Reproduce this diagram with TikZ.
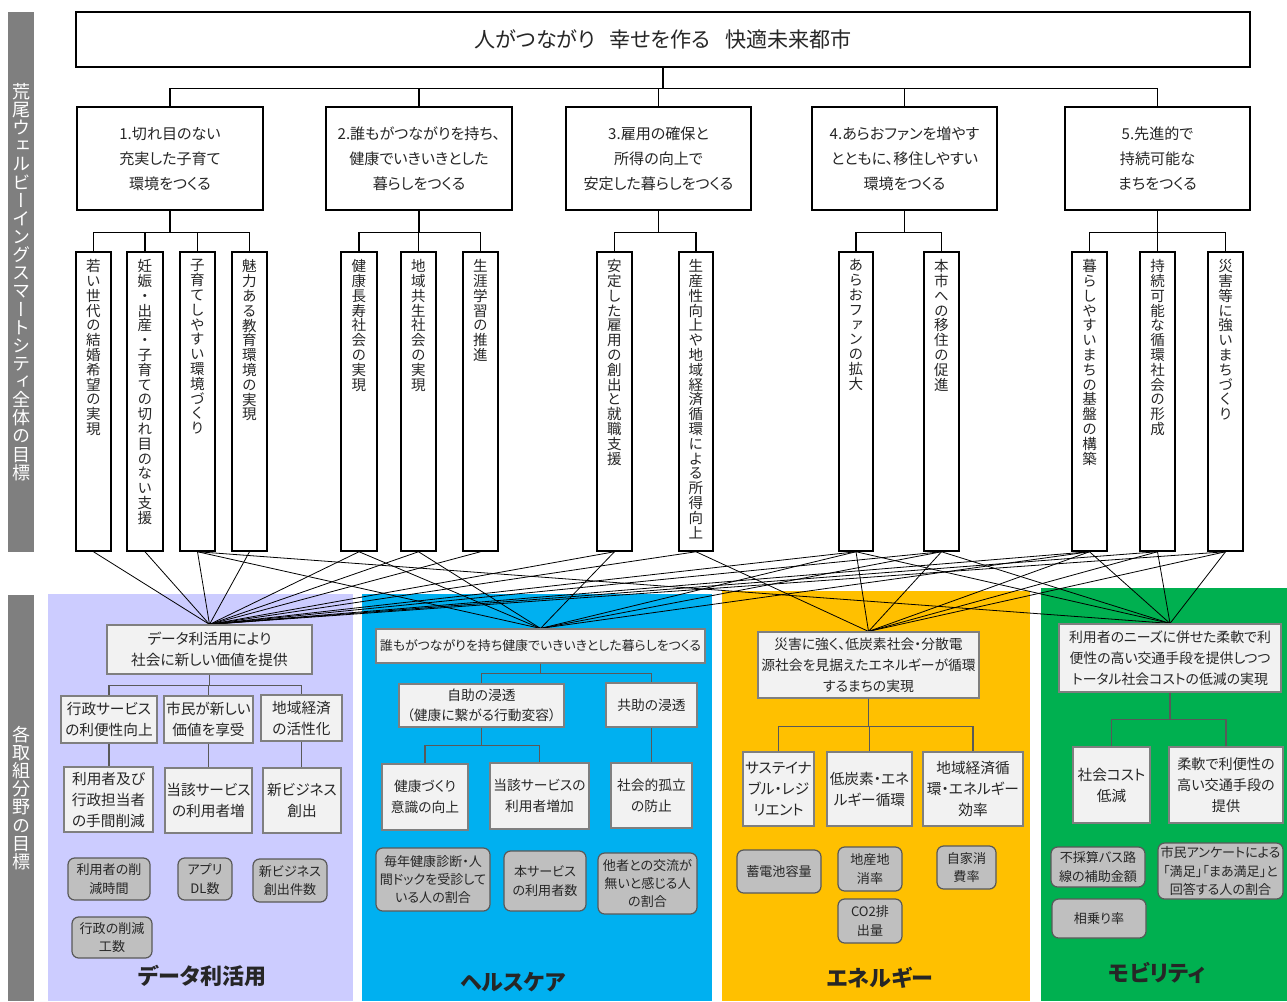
\documentclass[tikz,border=0pt]{standalone}
\usepackage{fontspec}
\setmainfont{Noto Sans CJK JP}[RawFeature=+palt]
\newfontfamily\vfont{Noto Sans CJK JP}[RawFeature=+vert]
\usetikzlibrary{calc}
\definecolor{lav}{HTML}{CCCCFF}
\definecolor{hblue}{HTML}{00B0F0}
\definecolor{eyel}{HTML}{FFC000}
\definecolor{mgrn}{HTML}{00B050}
\definecolor{barg}{HTML}{7F7F7F}
\definecolor{lbox}{HTML}{F2F2F2}
\definecolor{lbord}{HTML}{7F7F7F}
\definecolor{ibox}{HTML}{BFBFBF}
\definecolor{ibord}{HTML}{595959}
\definecolor{txt}{HTML}{262626}
\makeatletter
\def\vt@end{\vt@end}
\def\vt@a#1{\ifx#1\vt@end\else\hbox to 1.2em{\hss#1\hss}\expandafter\vt@a\fi}
\newcommand\vtext[2]{\vbox{\baselineskip=#1\lineskiplimit=-\maxdimen\lineskip=0pt\vt@a#2\vt@end}}
\makeatother
\newcommand\bx[7]{\node[#6, minimum width={(#4-#2)*0.75pt}, minimum height={(#5-#3)*0.75pt}] (#1) at ({(#2+#4)/2},{(#3+#5)/2}) {#7};}
\pgfdeclarelayer{panel}\pgfdeclarelayer{lines}
\pgfsetlayers{panel,lines,main}
\tikzset{
 tb/.style={draw=black, line width=1.1pt, fill=white, inner sep=0pt, align=center, text=txt, font=\fontsize{11.3}{18.75}\selectfont},
 vb/.style={draw=black, line width=1.1pt, fill=white, inner sep=0pt},
 vtx/.style={inner sep=0pt, text=txt, font=\vfont\fontsize{10.9}{11}\selectfont, anchor=north},
 gbar/.style={fill=barg, inner sep=0pt},
 gtx/.style={inner sep=0pt, text=white, font=\vfont\fontsize{13.5}{13.6}\selectfont},
 lb/.style={draw=lbord, line width=0.9pt, fill=lbox, inner sep=0pt, align=center, text=txt, font=\fontsize{11}{15.8}\selectfont},
 ib/.style={draw=ibord, line width=0.9pt, fill=ibox, rounded corners=5pt, inner sep=0pt, align=center, text=txt, font=\fontsize{9.8}{13.8}\selectfont},
 ttl/.style={inner sep=0pt, font=\fontsize{16.5}{18}\selectfont\bfseries, text=txt},
 link/.style={line width=0.6pt, black},
 tree/.style={line width=1.1pt, black},
 ltree/.style={line width=0.9pt, ibord},
}
\begin{document}
\begin{tikzpicture}[x=0.75pt,y=-0.75pt]
\useasboundingbox (0,0) rectangle (1287,1001);
\begin{pgfonlayer}{panel}
\fill[white] (0,0) rectangle (1287,1001);
\fill[lav] (48,594) rectangle (353,1001);
\fill[hblue] (362,594) rectangle (712,1001);
\fill[eyel] (722,591) rectangle (1030,1001);
\fill[mgrn] (1041,588) rectangle (1287,1001);
\end{pgfonlayer}
% left bars
\bx{G1}{8}{12}{34}{552}{gbar}{}
\node[gtx] (G1t) at (G1.center) {\vtext{13.6pt}{荒尾ウェルビーイングスマートシティ全体の目標}};
\bx{G2}{8}{595}{34}{1001}{gbar}{}
\node[gtx] (G2t) at (G2.center) {\vtext{13.6pt}{各取組分野の目標}};
% top
\bx{T}{76}{12}{1250}{67}{tb}{\fontsize{15.8}{18}\selectfont 人がつながり\hspace{0.7em}幸せを作る\hspace{0.7em}快適未来都市}
\bx{P1}{77}{107}{263}{210}{tb}{1.切れ目のない\\充実した子育て\\環境をつくる}
\bx{P2}{326}{107}{512}{210}{tb}{2.誰もがつながりを持ち、\\健康でいきいきとした\\暮らしをつくる}
\bx{P3}{566}{107}{751}{210}{tb}{3.雇用の確保と\\所得の向上で\\安定した暮らしをつくる}
\bx{P4}{812}{107}{997}{210}{tb}{4.あらおファンを増やす\\とともに、移住しやすい\\環境をつくる}
\bx{P5}{1065}{107}{1250}{210}{tb}{5.先進的で\\持続可能な\\まちをつくる}
\foreach \p in {P1,P2,P3,P4,P5} \draw[tree] (T.south) -- ++(0,21) -| (\p.north);
% vertical boxes
\bx{v1}{76}{252}{111}{551}{vb}{}
\bx{v2}{127}{252}{163}{551}{vb}{}
\bx{v3}{180}{252}{215}{551}{vb}{}
\bx{v4}{232}{252}{267}{551}{vb}{}
\bx{v5}{341}{252}{377}{551}{vb}{}
\bx{v6}{401}{252}{436}{551}{vb}{}
\bx{v7}{463}{252}{498}{551}{vb}{}
\bx{v8}{597}{252}{632}{551}{vb}{}
\bx{v9}{679}{252}{713}{551}{vb}{}
\bx{v10}{839}{252}{873}{551}{vb}{}
\bx{v11}{924}{252}{959}{551}{vb}{}
\bx{v12}{1072}{252}{1107}{551}{vb}{}
\bx{v13}{1140}{252}{1175}{551}{vb}{}
\bx{v14}{1208}{252}{1243}{551}{vb}{}
\node[vtx] (t1) at ($(v1.north)+(0,8)$) {\vtext{11.1pt}{若い世代の結婚希望の実現}};
\node[vtx] (t2) at ($(v2.north)+(0,8)$) {\vtext{11.1pt}{妊娠・出産・子育ての切れ目のない支援}};
\node[vtx] (t3) at ($(v3.north)+(0,8)$) {\vtext{11.1pt}{子育てしやすい環境づくり}};
\node[vtx] (t4) at ($(v4.north)+(0,8)$) {\vtext{11.1pt}{魅力ある教育環境の実現}};
\node[vtx] (t5) at ($(v5.north)+(0,8)$) {\vtext{11.1pt}{健康長寿社会の実現}};
\node[vtx] (t6) at ($(v6.north)+(0,8)$) {\vtext{11.1pt}{地域共生社会の実現}};
\node[vtx] (t7) at ($(v7.north)+(0,8)$) {\vtext{11.1pt}{生涯学習の推進}};
\node[vtx] (t8) at ($(v8.north)+(0,8)$) {\vtext{11.1pt}{安定した雇用の創出と就職支援}};
\node[vtx] (t9) at ($(v9.north)+(0,8)$) {\vtext{11.1pt}{生産性向上や地域経済循環による所得向上}};
\node[vtx] (t10) at ($(v10.north)+(0,8)$) {\vtext{11.1pt}{あらおファンの拡大}};
\node[vtx] (t11) at ($(v11.north)+(0,8)$) {\vtext{11.1pt}{本市への移住の促進}};
\node[vtx] (t12) at ($(v12.north)+(0,8)$) {\vtext{11.1pt}{暮らしやすいまちの基盤の構築}};
\node[vtx] (t13) at ($(v13.north)+(0,8)$) {\vtext{11.1pt}{持続可能な循環社会の形成}};
\node[vtx] (t14) at ($(v14.north)+(0,8)$) {\vtext{11.1pt}{災害等に強いまちづくり}};
\foreach \c in {v1,v2,v3,v4} \draw[tree] (P1.south) -- ++(0,22) -| (\c.north);
\foreach \c in {v5,v6,v7} \draw[tree] (P2.south) -- ++(0,22) -| (\c.north);
\foreach \c in {v8,v9} \draw[tree] (P3.south) -- ++(0,22) -| (\c.north);
\foreach \c in {v10,v11} \draw[tree] (P4.south) -- ++(0,22) -| (\c.north);
\foreach \c in {v12,v13,v14} \draw[tree] (P5.south) -- ++(0,22) -| (\c.north);
% data panel
\bx{dh}{107}{625}{312}{674}{lb}{データ利活用により\\社会に新しい価値を提供}
\bx{d21}{61}{696}{157}{743}{lb}{行政サービス\\の利便性向上}
\bx{d22}{164}{696}{253}{743}{lb}{市民が新しい\\価値を享受}
\bx{d23}{261}{695}{342}{741}{lb}{地域経済\\の活性化}
\bx{d31}{64}{767}{153}{832}{lb}{利用者及び\\行政担当者\\の手間削減}
\bx{d32}{165}{768}{252}{833}{lb}{当該サービス\\の利用者増}
\bx{d33}{263}{768}{341}{833}{lb}{新ビジネス\\創出}
\bx{di1}{68}{858}{150}{900}{ib}{利用者の削\\減時間}
\bx{di2}{178}{858}{232}{900}{ib}{アプリ\\DL数}
\bx{di3}{253}{859}{327}{902}{ib}{新ビジネス\\創出件数}
\bx{di4}{72}{917}{152}{958}{ib}{行政の削減\\工数}
\node[ttl] (dt) at (202,976) {データ利活用};
\foreach \c in {d21,d22,d23} \draw[ltree] (dh.south) -- ++(0,11) -| (\c.north);
\draw[ltree] (d21.south) -- (d21.south |- d31.north);
\draw[ltree] (d22.south) -- (d22.south |- d32.north);
\draw[ltree] (d23.south) -- (d23.south |- d33.north);
% health panel
\bx{hh}{376}{629}{705}{663}{lb,font=\fontsize{9.7}{14}\selectfont}{誰もがつながりを持ち健康でいきいきとした暮らしをつくる}
\bx{h21}{399}{684}{564}{727}{lb,font=\fontsize{10.3}{15.5}\selectfont}{自助の浸透\\（健康に繋がる行動変容）}
\bx{h22}{606}{683}{697}{727}{lb,font=\fontsize{10.3}{15.5}\selectfont}{共助の浸透}
\bx{h31}{382}{764}{468}{830}{lb,font=\fontsize{10.3}{15.5}\selectfont}{健康づくり\\意識の向上}
\bx{h32}{490}{763}{589}{829}{lb,font=\fontsize{10.3}{15.5}\selectfont}{当該サービスの\\利用者増加}
\bx{h33}{611}{763}{692}{828}{lb,font=\fontsize{10.3}{15.5}\selectfont}{社会的孤立\\の防止}
\bx{hi1}{376}{848}{490}{911}{ib}{毎年健康診断・人\\間ドックを受診して\\いる人の割合}
\bx{hi2}{504}{851}{586}{911}{ib}{本サービス\\の利用者数}
\bx{hi3}{598}{853}{697}{914}{ib}{他者との交流が\\無いと感じる人\\の割合}
\node[ttl] (ht) at (513,982) {ヘルスケア};
\foreach \c in {h21,h22} \draw[ltree] (hh.south) -- ++(0,10) -| (\c.north);
\foreach \c in {h31,h32} \draw[ltree] (h21.south) -- ++(0,18) -| (\c.north);
\draw[ltree] (h22.south) -- (h22.south |- h33.north);
% energy panel
\bx{eh}{758}{632}{979}{698}{lb,font=\fontsize{10.35}{15.8}\selectfont}{災害に強く、低炭素社会・分散電\\源社会を見据えたエネルギーが循環\\するまちの実現}
\bx{e21}{743}{752}{814}{826}{lb}{サステイナ\\ブル・レジ\\リエント}
\bx{e22}{827}{752}{912}{826}{lb}{低炭素・エネ\\ルギー循環}
\bx{e23}{923}{752}{1023}{826}{lb}{地域経済循\\環・エネルギー\\効率}
\bx{ei1}{737}{850}{821}{893}{ib}{蓄電池容量}
\bx{ei2}{838}{847}{902}{891}{ib}{地産地\\消率}
\bx{ei3}{838}{899}{902}{943}{ib}{CO2排\\出量}
\bx{ei4}{937}{846}{996}{889}{ib}{自家消\\費率}
\node[ttl] (et) at (880,978) {エネルギー};
\foreach \c in {e21,e22,e23} \draw[ltree] (eh.south) -- ++(0,28) -| (\c.north);
% mobility panel
\bx{mh}{1059}{624}{1281}{692}{lb,font=\fontsize{10.4}{15.8}\selectfont}{利用者のニーズに併せた柔軟で利\\便性の高い交通手段を提供しつつ\\トータル社会コストの低減の実現}
\bx{m21}{1073}{747}{1150}{823}{lb}{社会コスト\\低減}
\bx{m22}{1169}{747}{1283}{823}{lb,font=\fontsize{10.6}{15.8}\selectfont}{柔軟で利便性の\\高い交通手段の\\提供}
\bx{mi1}{1051}{847}{1145}{887}{ib}{不採算バス路\\線の補助金額}
\bx{mi2}{1158}{843}{1283}{899}{ib}{市民アンケートによる\\「満足」「まあ満足」と\\回答する人の割合}
\bx{mi3}{1052}{899}{1146}{938}{ib}{相乗り率}
\node[ttl] (mt) at (1157,973) {モビリティ};
\foreach \c in {m21,m22} \draw[ltree] (mh.south) -- ++(0,27) -| (\c.north);
% cross links
\begin{pgfonlayer}{lines}
\foreach \i in {1,...,14} \draw[link] (v\i.south) -- (dh.north);
\foreach \i in {3,5,6,8,10,11,12} \draw[link] (v\i.south) -- (hh.north);
\foreach \i in {9,10,11,12,13,14} \draw[link] (v\i.south) -- (eh.north);
\foreach \i in {3,10,11,12,13,14} \draw[link] (v\i.south) -- (mh.north);
\end{pgfonlayer}
\end{tikzpicture}
\end{document}
